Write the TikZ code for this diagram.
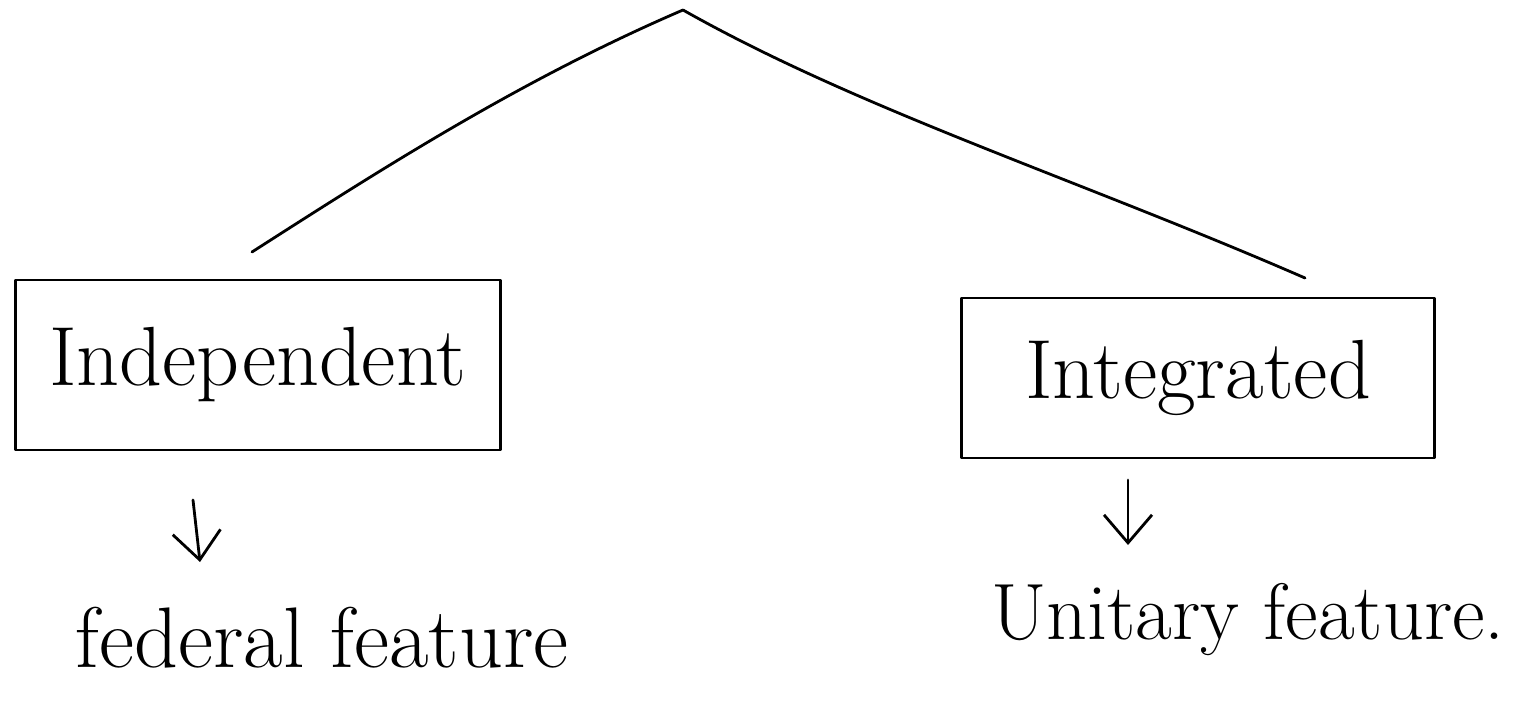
\documentclass[tikz,border=0pt]{standalone}
\usetikzlibrary{arrows.meta}
\begin{document}
\begin{tikzpicture}[x=0.5pt,y=-0.5pt,
  line width=1.4pt, line cap=round, line join=round,
  box/.style={draw, line width=1.4pt, inner sep=0pt, font=\fontsize{42}{46}\selectfont},
  label/.style={font=\fontsize{43}{47}\selectfont, inner sep=0pt},
  downarrow/.style={-{Straight Barb[length=14pt,width=24pt,line width=1.4pt]}, line width=1.4pt}]
\useasboundingbox (0,0) rectangle (1520,721);
\fill[white] (0,0) rectangle (1520,721);
% nodes
\node[box, minimum width=242.5pt, minimum height=85pt] (ind) at (258,365) {Independent};
\node[box, minimum width=236.5pt, minimum height=80pt] (int) at (1198,378) {Integrated};
\node[label] (fed) at (322,638) {federal feature};
\node[label, font=\fontsize{40}{44}\selectfont] (uni) at (1248,620) {Unitary feature.};
% tree
\coordinate (apex) at (683,10);
\coordinate (lend) at (252,252);
\coordinate (rend) at (1305,278);
\draw (apex) .. controls (520,80) and (380,170) .. (lend);
\draw (apex) .. controls (860,110) and (1080,180) .. (rend);
% arrows
\coordinate (a1s) at (193,500);
\coordinate (a1e) at (200,562);
\coordinate (a2s) at (1128,480);
\coordinate (a2e) at (1128,545);
\draw[downarrow] (a1s) -- (a1e);
\draw[downarrow] (a2s) -- (a2e);
\end{tikzpicture}
\end{document}
